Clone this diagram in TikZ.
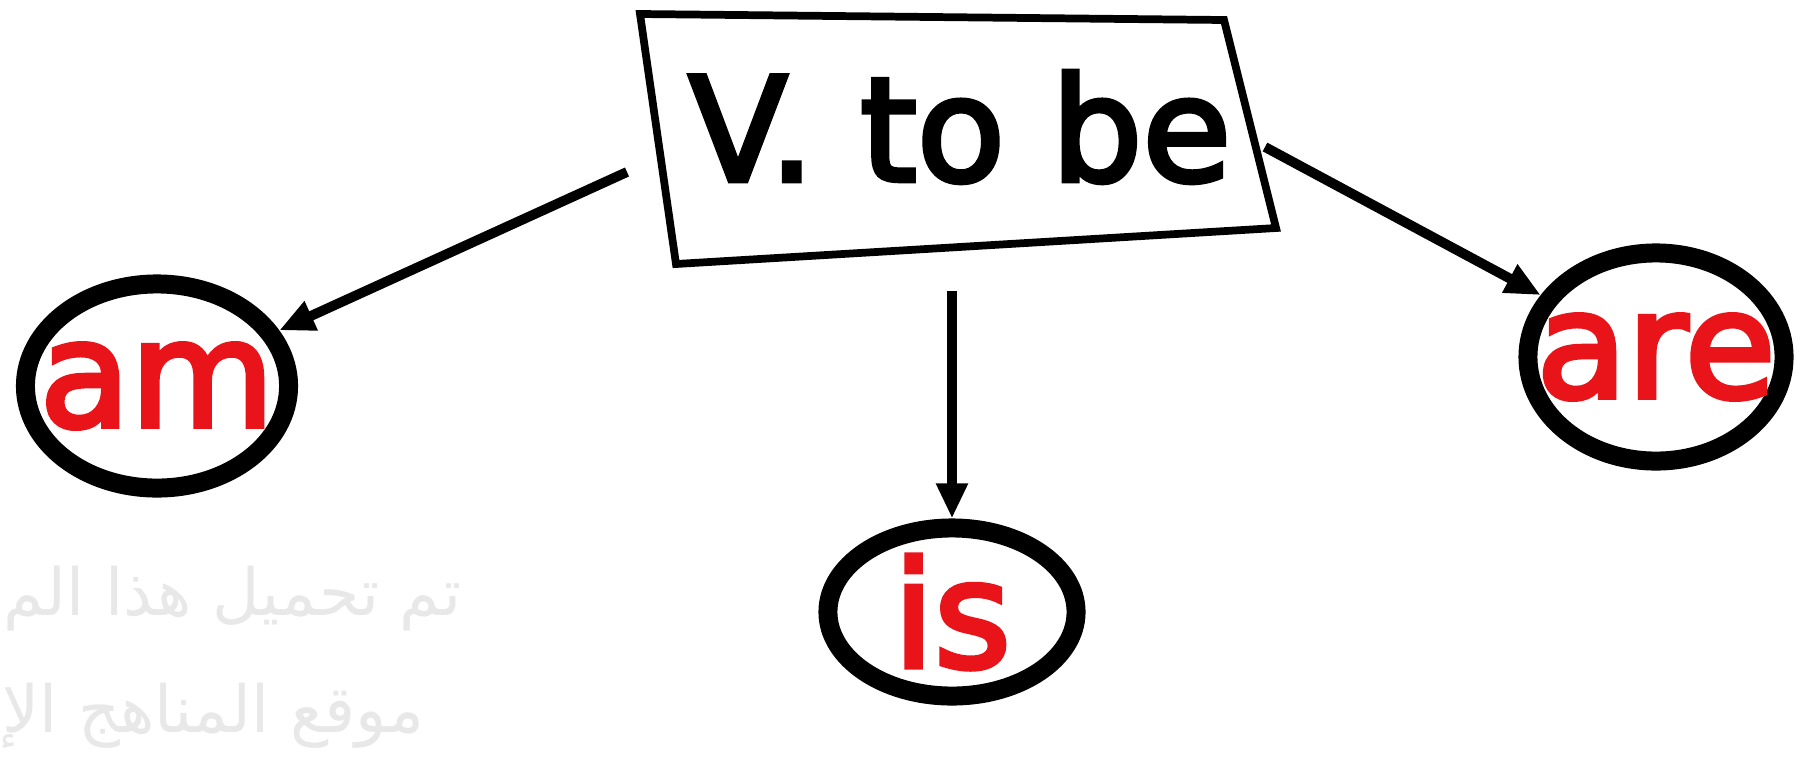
\documentclass[tikz,border=0pt]{standalone}
\usepackage{fontspec}
\setmainfont{DejaVu Sans}
\newfontfamily\handfont[FakeBold=3.5]{DejaVu Sans}
\newfontfamily\arabicfont[Script=Arabic]{DejaVu Sans}
\TeXXeTstate=1
\usetikzlibrary{shapes.geometric, arrows.meta, positioning, calc}
\definecolor{wordred}{RGB}{232,20,26}

\begin{document}
\begin{tikzpicture}[
    x=0.01cm, y=-0.01cm,
    >={Triangle[length=10pt, width=8.5pt]},
    % Estilos
    verbtext/.style={font=\handfont\fontsize{41}{48}\selectfont, text=black, inner sep=0pt},
    wordring/.style={ellipse, draw=black, line width=5.4pt, inner sep=0pt},
    wordtext/.style={text=wordred, font=\handfont\fontsize{42}{50}\selectfont, inner sep=0pt},
    linkarrow/.style={->, line width=2.8pt},
    watermark/.style={text=black!9, font=\arabicfont\fontsize{18.5}{22}\selectfont, inner sep=0pt, anchor=base east}
]

\clip (0,0) rectangle (1803,757);
\fill[white] (0,0) rectangle (1803,757);

% -------------------------
% MARCA DE AGUA
% -------------------------
\node[watermark] (wmone) at (462,615) {\beginR تم تحميل هذا الم\endR};
\node[watermark] (wmtwo) at (425,732) {\beginR موقع المناهج الإ\endR};

% -------------------------
% CAJA CENTRAL
% -------------------------
\coordinate (boxnw) at (640,14);
\coordinate (boxne) at (1224,20);
\coordinate (boxse) at (1276,228);
\coordinate (boxsw) at (676,264);
\draw[line width=2.2pt] (boxnw) -- (boxne) -- (boxse) -- (boxsw) -- cycle;
\node[verbtext] (verb) at (960,127) {V. to be};

% -------------------------
% FORMAS DEL VERBO
% -------------------------
\node[wordring, minimum width=2.63cm, minimum height=2.04cm, label={[wordtext]center:am}] (am) at (157,386) {};
\node[wordring, minimum width=2.48cm, minimum height=1.68cm, label={[wordtext]center:is}] (is) at (952,612) {};
\node[wordring, minimum width=2.56cm, minimum height=2.08cm, label={[wordtext]center:are}] (are) at (1656,357) {};

% Conexiones
\coordinate (amfrom) at (627,172);
\coordinate (isfrom) at (952,291);
\coordinate (arefrom) at (1265,147);
\draw[linkarrow] (amfrom) -- (am);
\draw[linkarrow] (isfrom) -- (is);
\draw[linkarrow] (arefrom) -- (are);

\end{tikzpicture}
\end{document}
